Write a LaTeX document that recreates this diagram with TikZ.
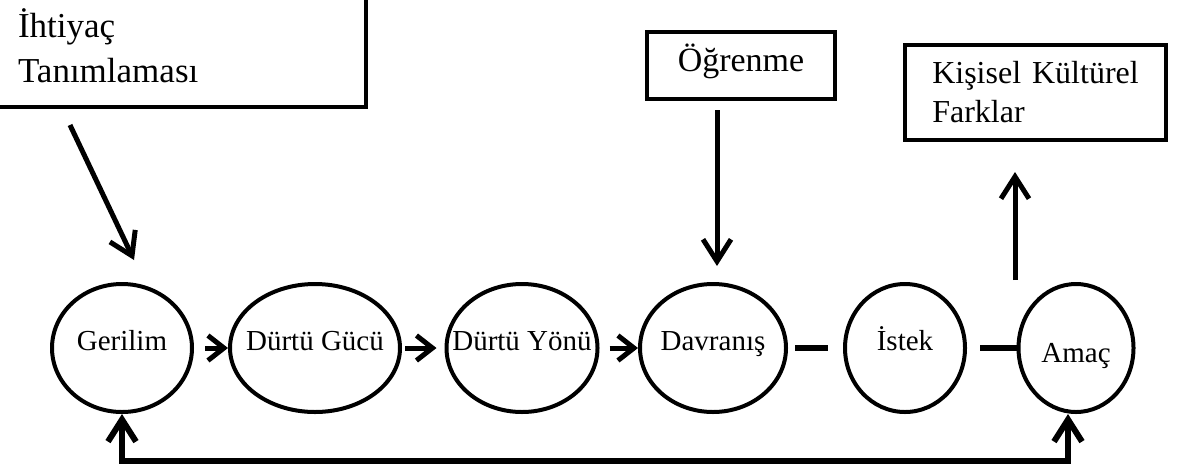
\documentclass[tikz,border=0pt]{standalone}
\usepackage{fontspec}
\setmainfont{Liberation Serif}
\usetikzlibrary{shapes.geometric,arrows.meta}

\tikzset{
  kutu/.style={draw, line width=4pt, inner sep=0pt, align=left},
  elips/.style={draw, ellipse, line width=4pt, inner xsep=-30pt, inner ysep=0pt, minimum height=128pt,
    font=\fontsize{29}{34}\selectfont, text height=20pt, text depth=16pt},
  okkucuk/.style={line width=5pt, -{Straight Barb[length=16pt,width=25pt]}},
  ok/.style={line width=5pt, -{Straight Barb[length=22pt,width=28pt]}},
  cizgi/.style={line width=6pt},
}

\begin{document}
\begin{tikzpicture}[x=1pt, y=-1pt]
        \clip (0,0) rectangle (1182,472);
        % Draw the boxes
        \node[kutu, anchor=south east, minimum width=400pt, minimum height=122pt,
          text width=296pt, inner xsep=52pt, font=\fontsize{35}{45}\selectfont] (iht) at (368,109) {İhtiyaç\\Tanımlaması};
        \node[kutu, minimum width=188pt, minimum height=67pt, font=\fontsize{34}{40}\selectfont,
          text height=25pt, text depth=14pt] (ogr) at (741,65.5) {Öğrenme};
        \node[kutu, minimum width=261pt, minimum height=95pt,
          font=\fontsize{32}{39}\selectfont] (kis) at (1035.5,92.5) {Kişisel\hspace{3pt} Kültürel\\Farklar};
        % Draw the ellipses
        \foreach \ad/\x/\w/\yazi in {ger/122/140/Gerilim, guc/315/170/Dürtü Gücü, yon/522/151/Dürtü Yönü,
                                     dav/713/146/Davranış, ist/905/120/İstek} {
            \node[elips, minimum width=\w pt] (\ad) at (\x,348) {\yazi};
        }
        \node[elips, minimum width=115pt, text height=28pt, text depth=0pt] (ama) at (1076,348) {Amaç};
        % Draw the arrows between the ellipses
        \foreach \a/\b/\k/\m in {ger/guc/11/0, guc/yon/3/8, yon/dav/10/0} {
            \draw[okkucuk, shorten <=\k pt, shorten >=\m pt] (\a) -- (\b);
        }
        \draw[cizgi, shorten <=7pt, shorten >=15pt] (dav) -- (ist);
        \draw[cizgi, shorten <=13pt] (ist) -- (ama);
        % Draw the arrows from and to the boxes
        \coordinate (iht1) at (70,125);
        \coordinate (iht2) at (134,260);
        \coordinate (ogr1) at (717,110);
        \coordinate (ogr2) at (717,266);
        \coordinate (kis1) at (1015,280);
        \coordinate (kis2) at (1015,172);
        \draw[ok] (iht1) -- (iht2);
        \draw[ok] (ogr1) -- (ogr2);
        \draw[ok] (kis1) -- (kis2);
        % Draw the feedback line
        \coordinate (geri) at (600,461);
        \draw[ok, line width=6pt, {Straight Barb[length=22pt,width=28pt]}-{Straight Barb[length=22pt,width=28pt]}]
            (ger.south) |- (geri) -| ([xshift=-8pt]ama.south);
    \end{tikzpicture}
\end{document}
